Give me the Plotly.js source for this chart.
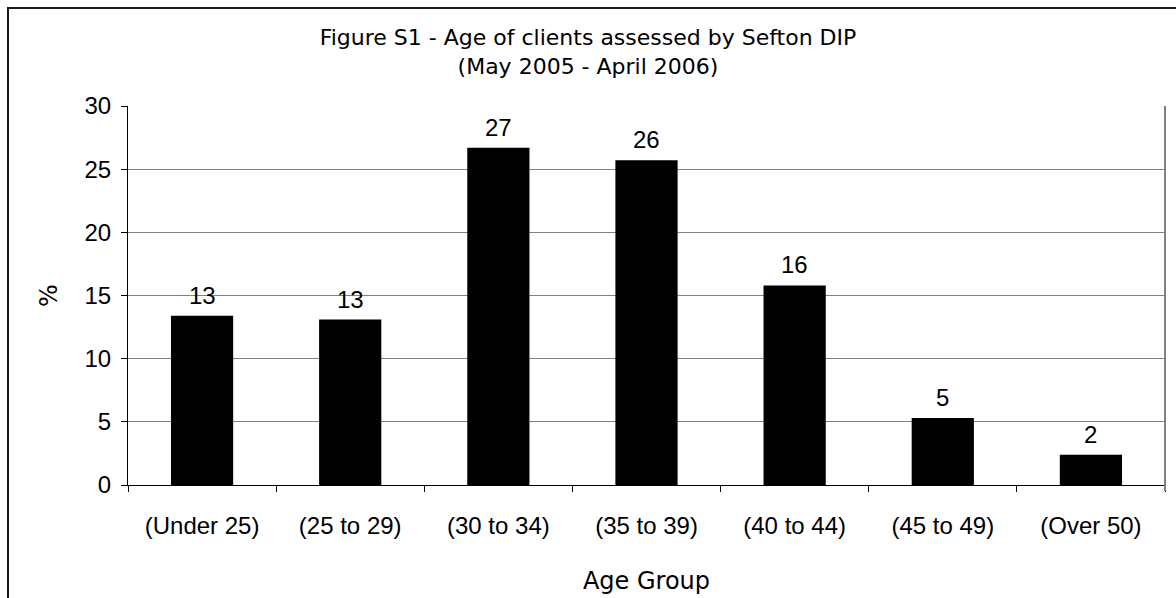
<!DOCTYPE html>
<html>
<head>
<meta charset="utf-8">
<script src="https://cdn.plot.ly/plotly-3.0.1.min.js"></script>
<style>
  html, body { margin: 0; padding: 0; background: #ffffff; }
  #wrap { position: relative; width: 1176px; height: 598px; overflow: hidden; }
  #chart { width: 1176px; height: 598px; }
  /* chart frame, open to the right and bottom */
  #frame {
    position: absolute; left: 7px; top: 7px; right: -10px; bottom: -10px;
    border-top: 2px solid #1a1a1a; border-left: 2px solid #1a1a1a;
    pointer-events: none; z-index: 10;
  }
</style>
</head>
<body>
<div id="wrap">
  <div id="chart"></div>
  <div id="frame"></div>
</div>
<script>
// Age groups of clients assessed (percent of all clients)
const ageGroups = ['(Under 25)', '(25 to 29)', '(30 to 34)', '(35 to 39)', '(40 to 44)', '(45 to 49)', '(Over 50)'];
const percentClients = [13.4, 13.1, 26.7, 25.7, 15.8, 5.3, 2.4];
const yTickValues = [0, 5, 10, 15, 20, 25, 30];

const W = 1176, H = 598;
const M = { l: 128, r: 11, t: 106, b: 113 };
const plotH = H - M.t - M.b;
const py = y => (H - M.b - y) / plotH;

const labelFont = { family: 'Arial, "Liberation Sans", sans-serif', size: 24, color: '#000000' };
const titleFont = { family: '"DejaVu Sans", sans-serif', size: 22, color: '#000000' };

const bars = {
  type: 'bar',
  x: ageGroups,
  y: percentClients,
  width: 0.42,
  marker: { color: '#000000', line: { color: '#000000', width: 0 } },
  hoverinfo: 'x+y'
};

// rounded value labels above each bar
const valueLabels = ageGroups.map((g, i) => ({
  x: g, y: percentClients[i], xref: 'x', yref: 'y',
  text: String(Math.round(percentClients[i])),
  showarrow: false, yanchor: 'bottom', yshift: 5,
  font: labelFont
}));

const layout = {
  width: W, height: H,
  margin: M,
  paper_bgcolor: 'rgba(255,255,255,0)',
  plot_bgcolor: '#ffffff',
  showlegend: false,
  bargap: 0.58,
  title: {
    text: 'Figure S1 - Age of clients assessed by Sefton DIP<br>(May 2005 - April 2006)',
    font: titleFont,
    x: 0.5, xref: 'container', xanchor: 'center',
    y: 1 - 45 / H, yref: 'container', yanchor: 'top'
  },
  xaxis: {
    type: 'category',
    categoryorder: 'array', categoryarray: ageGroups,
    showline: true, linecolor: '#000000', linewidth: 1,
    ticks: 'outside', ticklen: 6, tickcolor: '#000000', tickwidth: 1,
    tickson: 'boundaries',
    showgrid: false, zeroline: false,
    tickfont: labelFont,
    ticklabelstandoff: 19,
    title: { text: 'Age Group', font: { family: '"DejaVu Sans", sans-serif', size: 24, color: '#000000' }, standoff: 34 },
    automargin: false
  },
  yaxis: {
    range: [0, 30],
    tickvals: yTickValues,
    showline: true, linecolor: '#000000', linewidth: 1,
    ticks: 'outside', ticklen: 6, tickcolor: '#000000', tickwidth: 1,
    showgrid: true, gridcolor: '#808080', gridwidth: 1,
    zeroline: false,
    tickfont: labelFont,
    ticklabelstandoff: 5,
    title: { text: '%', font: { family: '"DejaVu Sans", sans-serif', size: 24, color: '#000000' }, standoff: 20 },
    automargin: false
  },
  annotations: valueLabels,
  shapes: [
    // right edge of the plotting area
    { type: 'line', xref: 'paper', yref: 'paper', x0: 1, x1: 1, y0: py(491), y1: 1,
      line: { color: '#808080', width: 2 } }
  ]
};

Plotly.newPlot('chart', [bars], layout, { staticPlot: true, displayModeBar: false });
</script>
</body>
</html>
